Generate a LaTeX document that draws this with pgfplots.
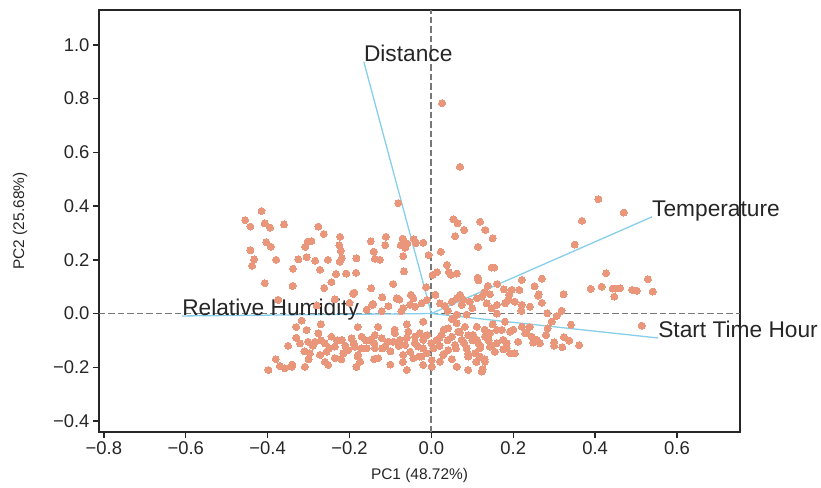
\documentclass[border=0pt]{standalone}
\usepackage{pgfplots}
\pgfplotsset{compat=1.18}
\usepackage{fontspec}
\setmainfont{Liberation Sans}
\definecolor{salm}{RGB}{233,150,122}
\definecolor{sky}{RGB}{135,206,235}
\definecolor{dk}{RGB}{38,38,38}
\definecolor{dgray}{RGB}{120,120,120}
\begin{document}
\begin{tikzpicture}
\begin{axis}[
  scale only axis, width=641bp, height=422bp,
  xmin=-0.812, xmax=0.754, ymin=-0.441, ymax=1.13,
  clip=false,
  axis line style={dk, line width=1.8bp},
  xtick={-0.8,-0.6,-0.4,-0.2,0,0.2,0.4,0.6},
  xticklabels={−0.8,−0.6,−0.4,−0.2,0.0,0.2,0.4,0.6},
  ytick={-0.4,-0.2,0,0.2,0.4,0.6,0.8,1.0},
  yticklabels={−0.4,−0.2,0.0,0.2,0.4,0.6,0.8,1.0},
  tick align=outside, major tick length=6bp,
  tick style={dk, line width=1.4bp},
  xtick pos=bottom, ytick pos=left,
  ticklabel style={font=\fontsize{18.5}{20}\selectfont, text=dk},
  xlabel={PC1 (48.72\%)}, ylabel={PC2 (25.68\%)},
  label style={font=\fontsize{15.5}{18}\selectfont, text=dk},
  xlabel style={at={(axis description cs:0.5,-0.104)}, anchor=center},
  ylabel style={at={(axis description cs:-0.1232,0.5)}, anchor=center},
]
\addplot[only marks, mark=*, color=salm, mark size=3.5bp, mark options={draw=salm, fill=salm, line width=0pt}] table {
x y
-0.415 0.382
-0.455 0.348
-0.442 0.324
-0.407 0.336
-0.394 0.320
-0.360 0.332
-0.276 0.324
-0.263 0.296
-0.403 0.265
-0.392 0.249
-0.442 0.236
-0.433 0.202
-0.438 0.178
-0.379 0.200
-0.302 0.268
-0.293 0.270
-0.308 0.248
-0.305 0.210
-0.325 0.202
-0.284 0.197
-0.253 0.200
-0.223 0.286
-0.225 0.254
-0.221 0.233
-0.219 0.206
-0.224 0.193
-0.183 0.206
-0.148 0.269
-0.141 0.230
-0.138 0.204
-0.126 0.200
-0.111 0.286
-0.113 0.255
-0.338 0.167
-0.272 0.163
-0.233 0.147
-0.208 0.149
-0.184 0.152
-0.407 0.113
-0.339 0.103
-0.244 0.117
-0.262 0.095
-0.188 0.078
-0.147 0.094
-0.093 0.110
-0.081 0.411
0.054 0.351
0.064 0.336
0.080 0.311
0.058 0.288
0.119 0.342
0.132 0.311
0.150 0.280
0.114 0.248
-0.070 0.279
-0.075 0.255
-0.064 0.245
-0.059 0.260
-0.043 0.277
-0.038 0.262
-0.020 0.264
-0.069 0.214
-0.007 0.218
0.023 0.230
0.038 0.181
-0.067 0.157
0.043 0.154
0.048 0.144
0.062 0.149
0.003 0.144
0.014 0.154
0.147 0.171
0.154 0.171
0.113 0.134
0.115 0.124
-0.013 0.098
0.138 0.103
0.161 0.110
0.177 0.090
0.196 0.088
0.215 0.088
0.221 0.125
0.252 0.102
0.270 0.130
0.262 0.072
0.143 0.072
0.408 0.426
0.470 0.376
0.368 0.345
0.350 0.257
0.427 0.150
0.529 0.128
0.389 0.092
0.416 0.100
0.443 0.093
0.449 0.093
0.461 0.094
0.491 0.088
0.502 0.085
0.541 0.082
0.323 0.072
0.447 0.063
0.283 0.001
0.294 -0.030
0.306 -0.009
0.318 0.010
0.284 -0.055
0.341 -0.041
0.514 -0.045
0.324 -0.088
0.337 -0.101
0.300 -0.107
0.320 -0.125
0.361 -0.118
0.026 0.783
0.070 0.546
0.111 -0.049
0.131 -0.086
0.111 -0.098
0.147 -0.117
0.119 -0.129
0.107 -0.148
0.131 -0.179
0.125 -0.207
0.172 -0.061
0.192 -0.067
0.221 -0.049
0.229 -0.073
0.212 -0.105
0.245 -0.086
0.249 -0.108
0.257 -0.098
0.184 -0.111
0.176 -0.133
0.192 -0.148
-0.085 0.057
-0.069 0.020
-0.044 0.057
-0.040 0.026
-0.024 0.038
-0.011 0.051
0.021 0.038
0.033 0.028
0.050 0.044
0.062 0.057
0.074 0.032
0.094 0.044
0.111 0.057
0.123 0.063
0.135 0.038
0.147 0.020
0.160 0.032
0.180 0.038
0.188 0.051
0.204 0.044
0.221 0.032
0.241 0.026
0.261 0.066
-0.089 -0.073
-0.093 -0.105
-0.077 -0.098
-0.064 -0.117
-0.056 -0.067
-0.040 -0.086
-0.028 -0.073
-0.020 -0.098
-0.032 -0.123
-0.052 -0.142
-0.069 -0.154
-0.044 -0.166
-0.024 -0.160
-0.011 -0.148
0.005 -0.129
0.013 -0.098
0.025 -0.080
0.041 -0.055
0.050 -0.086
0.062 -0.036
0.066 -0.067
0.074 -0.098
0.058 -0.117
0.041 -0.136
0.029 -0.154
0.021 -0.179
0.001 -0.173
-0.020 -0.191
0.001 -0.198
0.062 -0.198
0.090 -0.160
0.115 -0.111
0.143 -0.073
0.160 -0.061
0.176 -0.098
0.233 -0.073
0.265 -0.111
0.119 -0.160
0.123 -0.216
0.086 -0.129
0.102 -0.080
0.082 -0.049
0.143 -0.123
0.184 -0.129
0.204 -0.148
0.155 -0.142
-0.305 -0.061
-0.276 -0.073
-0.244 -0.086
-0.321 -0.111
-0.301 -0.105
-0.284 -0.105
-0.260 -0.111
-0.236 -0.123
-0.219 -0.098
-0.195 -0.092
-0.187 -0.123
-0.170 -0.086
-0.150 -0.098
-0.138 -0.080
-0.121 -0.092
-0.105 -0.105
-0.297 -0.148
-0.272 -0.154
-0.256 -0.142
-0.203 -0.136
-0.179 -0.154
-0.158 -0.129
-0.138 -0.129
-0.113 -0.123
-0.309 -0.198
-0.341 -0.198
-0.252 -0.191
-0.183 -0.198
-0.130 -0.166
-0.174 -0.179
-0.215 -0.148
-0.236 -0.166
-0.398 -0.210
-0.370 -0.195
-0.358 -0.204
-0.317 -0.026
-0.374 0.051
-0.236 0.053
-0.144 0.032
-0.105 0.028
-0.191 0.073
-0.142 0.036
-0.078 0.052
-0.052 0.033
0.078 0.052
-0.073 0.009
-0.121 0.009
-0.158 0.015
0.062 -0.004
0.086 -0.004
-0.35 -0.12
-0.33 -0.09
-0.31 -0.14
-0.29 -0.12
-0.27 -0.10
-0.25 -0.13
-0.23 -0.10
-0.21 -0.12
-0.19 -0.11
-0.17 -0.13
-0.16 -0.10
-0.14 -0.11
-0.12 -0.13
-0.10 -0.14
-0.08 -0.12
-0.06 -0.09
-0.04 -0.11
-0.02 -0.13
0.00 -0.11
0.02 -0.12
0.04 -0.10
0.06 -0.13
0.08 -0.11
0.10 -0.10
0.12 -0.12
0.14 -0.10
0.16 -0.11
0.03 -0.15
0.05 -0.17
0.09 -0.15
0.11 -0.18
-0.03 -0.16
-0.07 -0.18
0.07 -0.07
0.03 -0.06
-0.01 -0.08
0.09 -0.08
0.13 -0.06
0.15 -0.04
0.18 -0.03
0.20 -0.06
0.24 -0.05
0.28 -0.08
0.30 -0.12
0.04 0.01
0.10 0.02
0.16 0.00
0.22 0.01
0.27 0.04
0.19 0.07
0.13 0.08
0.07 0.07
0.01 0.07
-0.05 0.07
-0.12 0.06
-0.20 0.04
-0.28 0.03
-0.33 -0.05
-0.27 -0.04
-0.18 -0.05
-0.13 -0.05
-0.06 -0.04
-0.02 -0.03
0.05 -0.02
-0.38 -0.17
-0.34 -0.19
-0.30 -0.17
-0.26 -0.18
-0.22 -0.17
-0.18 -0.16
-0.14 -0.17
-0.10 -0.19
-0.06 -0.21
0.13 -0.17
0.09 -0.21
0.02 -0.09
-0.09 -0.06
};
\addplot[dgray, line width=1.8bp, dash pattern=on 6.5bp off 3bp] coordinates {(-0.812,0) (0.754,0)};
\addplot[dgray, line width=1.8bp, dash pattern=on 6.5bp off 3bp] coordinates {(0,-0.441) (0,1.13)};
\addplot[sky, line width=1.3bp] coordinates {(0,0) (-0.165,0.937)};
\addplot[sky, line width=1.3bp] coordinates {(0,0) (0.539,0.360)};
\addplot[sky, line width=1.3bp] coordinates {(0,0) (0.554,-0.091)};
\addplot[sky, line width=1.3bp] coordinates {(0,0) (-0.609,-0.009)};
\node[anchor=base west, inner sep=0pt, text=dk, font=\fontsize{22.8}{24}\selectfont] at (axis cs:-0.165,0.937) {Distance};
\node[anchor=base west, inner sep=0pt, text=dk, font=\fontsize{22.8}{24}\selectfont] at (axis cs:0.539,0.360) {Temperature};
\node[anchor=base west, inner sep=0pt, text=dk, font=\fontsize{22.8}{24}\selectfont] at (axis cs:0.554,-0.091) {Start Time Hour};
\node[anchor=base west, inner sep=0pt, text=dk, font=\fontsize{22.8}{24}\selectfont] at (axis cs:-0.609,-0.009) {Relative Humidity};
\end{axis}
\pgfresetboundingbox
\path[use as bounding box] ([shift={(-99bp,-56bp)}]current axis.south west) rectangle ([shift={(81bp,10bp)}]current axis.north east);
\end{tikzpicture}
\end{document}
